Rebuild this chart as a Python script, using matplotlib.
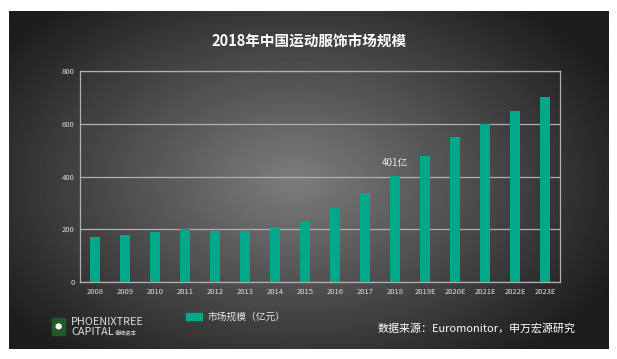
import numpy as np
import matplotlib.pyplot as plt
from matplotlib.patches import Rectangle

plt.rcParams['font.family'] = ['Noto Sans CJK SC', 'DejaVu Sans']

# Market size of sportswear in China (100M CNY)
years = ['2008', '2009', '2010', '2011', '2012', '2013', '2014', '2015', '2016',
         '2017', '2018', '2019E', '2020E', '2021E', '2022E', '2023E']
values = [170, 180, 190, 200, 194, 192, 210, 229, 281, 338, 401, 478, 548, 600, 648, 700]
yticks = [0, 200, 400, 600, 800]

green = '#00a88a'
W, H = 617, 359

fig = plt.figure(figsize=(W / 100, H / 100), dpi=100)
fig.patch.set_facecolor('white')

# dark panel with radial gradient
bg = fig.add_axes([9 / W, 1 - 349 / H, 600 / W, 338 / H])
xx, yy = np.meshgrid(np.linspace(-1, 1, 400), np.linspace(-1, 1, 240))
r = np.sqrt(((xx + 0.05) / 1.0) ** 2 + (yy / 1.15) ** 2)
shade = 0.49 - 0.38 * np.clip(r, 0, 1.2) / 1.2
bg.imshow(shade, cmap='gray', vmin=0, vmax=1, aspect='auto', extent=[0, 1, 0, 1])
bg.set_axis_off()

ax = fig.add_axes([80 / W, 1 - 282 / H, 480 / W, 211 / H])
ax.set_facecolor('none')
x = np.arange(len(years))
ax.bar(x, values, width=0.34, color=green, zorder=3)
ax.set_xlim(-0.5, len(years) - 0.5)
ax.set_ylim(0, 800)
ax.set_yticks(yticks)
ax.set_xticks(x)
ax.set_xticklabels(years)
ax.tick_params(colors='#dddddd', labelsize=5.5, length=0, pad=4)
ax.grid(axis='y', color='#b0b0b0', linewidth=0.9, zorder=1)
for s in ax.spines.values():
    s.set_color('#b0b0b0')
    s.set_linewidth(0.9)

i18 = years.index('2018')
ax.annotate('401亿', (x[i18], values[i18]), xytext=(0, 6), textcoords='offset points',
            ha='center', va='bottom', color='#e8e8e8', fontsize=7)

fig.text(309.5 / W, 1 - 42 / H, '2018年中国运动服饰市场规模', ha='center', va='center',
         color='white', fontsize=10.5, fontweight='bold')

# legend
fig.patches.append(Rectangle((186 / W, 1 - 320 / H), 16 / W, 7 / H,
                             transform=fig.transFigure, color=green))
fig.text(207 / W, 1 - 317 / H, '市场规模（亿元）', ha='left', va='center',
         color='#e8e8e8', fontsize=7)

# logo
fig.patches.append(Rectangle((52 / W, 1 - 335 / H), 13 / W, 17 / H,
                             transform=fig.transFigure, color='#1f5a2a'))
fig.text(58.5 / W, 1 - 326.5 / H, '⬢', ha='center', va='center', color='white', fontsize=6)
fig.text(71 / W, 1 - 322 / H, 'PHOENIXTREE', ha='left', va='center',
         color='#dddddd', fontsize=7.8)
fig.text(71 / W, 1 - 332 / H, 'CAPITAL', ha='left', va='center',
         color='#dddddd', fontsize=7.8)
fig.text(115 / W, 1 - 332.5 / H, '青桐资本', ha='left', va='center',
         color='#dddddd', fontsize=4)

fig.text(378 / W, 1 - 328 / H, '数据来源：Euromonitor，申万宏源研究', ha='left', va='center',
         color='white', fontsize=7.9)

fig.savefig('out.png', dpi=100, facecolor='white')
